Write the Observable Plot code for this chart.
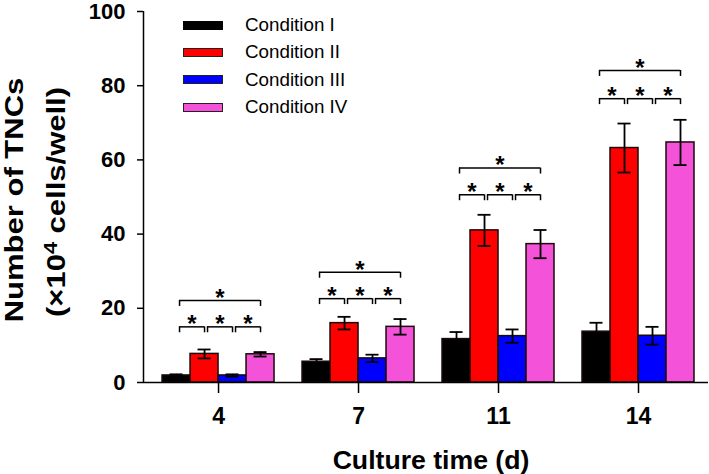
<!DOCTYPE html>
<html>
<head>
<meta charset="utf-8">
<script src="https://cdn.jsdelivr.net/npm/d3@7"></script>
<script src="https://cdn.jsdelivr.net/npm/@observablehq/plot@0.6"></script>
<style>
  body { margin: 0; background: #fff; }
  #wrap { position: relative; width: 709px; height: 474px; font-family: "Liberation Sans", Arial, sans-serif; overflow: hidden; }
  #wrap svg { position: absolute; left: 0; top: 0; }
  .legend-row { position: absolute; left: 183px; height: 20px; display: flex; align-items: center; }
  .legend-row .sw { width: 38px; height: 7px; border: 1px solid #222; }
  .legend-row .lb { margin-left: 22px; font-size: 18.8px; color: #000; white-space: nowrap; }
  .ylab { position: absolute; font-weight: bold; font-size: 25px; line-height: 1; white-space: nowrap; color: #000;
          transform: translate(-50%, -50%) rotate(-90deg) scaleX(1.24); }
  .ylab sup { font-size: 70%; vertical-align: 0.45em; line-height: 0; }
  .xlab { position: absolute; font-weight: bold; font-size: 25px; line-height: 1; white-space: nowrap; color: #000;
          transform: translate(-50%, 0) scaleX(1.065); }
</style>
</head>
<body>
<div id="wrap"></div>
<script>
// ---- data ----
const days = ["4", "7", "11", "14"];
const conditions = ["Condition I", "Condition II", "Condition III", "Condition IV"];
const colors = ["#000000", "#ff0000", "#0000ff", "#f352d9"];

const meanI   = [1.9, 5.6, 11.7, 13.7];
const meanII  = [7.7, 16.0, 41.0, 63.2];
const meanIII = [1.9, 6.5, 12.5, 12.6];
const meanIV  = [7.6, 15.0, 37.3, 64.7];

const errI   = [0.3, 0.7, 1.9, 2.4];
const errII  = [1.2, 1.7, 4.2, 6.6];
const errIII = [0.3, 1.0, 1.8, 2.4];
const errIV  = [0.6, 2.1, 3.8, 6.1];

const bracketLow  = [15.0, 22.6, 50.6, 76.5];
const bracketHigh = [22.1, 29.7, 57.8, 84.1];
const yTicks = [0, 20, 40, 60, 80, 100];

// ---- layout in bar units: each day group = 4 bars + 1 bar-wide gap ----
const stride = conditions.length + 1;
const xStart = -0.68, xEnd = days.length * stride - 0.5;

const means = [meanI, meanII, meanIII, meanIV];
const errs = [errI, errII, errIII, errIV];
const rows = [];
days.forEach((d, g) => conditions.forEach((c, i) =>
  rows.push({day: d, cond: c, pos: g * stride + i, mean: means[i][g], err: errs[i][g]})));

const pairs = [[0, 1], [1, 2], [2, 3]];
const brackets = [];
days.forEach((d, g) => {
  pairs.forEach(([a, b]) => brackets.push({a: g * stride + a, b: g * stride + b, h: bracketLow[g]}));
  brackets.push({a: g * stride, b: g * stride + 3, h: bracketHigh[g]});
});
const groupCenters = days.map((d, g) => g * stride + conditions.length / 2);

const legLen = 1.6;
const ink = "#000";

const chart = Plot.plot({
  width: 709,
  height: 474,
  marginLeft: 143,
  marginRight: 1,
  marginTop: 11,
  marginBottom: 92,
  style: {fontFamily: "'Liberation Sans', Arial, sans-serif", background: "transparent", overflow: "visible", color: "#000"},
  x: {domain: [xStart, xEnd]},
  y: {domain: [0, 100]},
  color: {domain: conditions, range: colors},
  marks: [
    Plot.rectY(rows, {x1: "pos", x2: d => d.pos + 1, y: "mean", fill: "cond", stroke: "#1a0a0a", strokeWidth: 1.5}),
    Plot.ruleX(rows, {x: d => d.pos + 0.5, y1: d => d.mean - d.err, y2: d => d.mean + d.err, stroke: ink, strokeWidth: 1.8}),
    Plot.ruleY(rows, {x1: "pos", x2: d => d.pos + 1, y: d => d.mean + d.err, insetLeft: 7.5, insetRight: 7.5, stroke: ink, strokeWidth: 1.8}),
    Plot.ruleY(rows, {x1: "pos", x2: d => d.pos + 1, y: d => d.mean - d.err, insetLeft: 7.5, insetRight: 7.5, stroke: ink, strokeWidth: 1.8}),
    // significance brackets
    Plot.ruleY(brackets, {x1: d => d.a + 0.5, x2: d => d.b + 0.5, y: "h", insetLeft: 3, stroke: ink, strokeWidth: 1.5}),
    Plot.ruleX(brackets, {x: d => d.a + 0.5, dx: 3, y1: "h", y2: d => d.h - legLen, stroke: ink, strokeWidth: 1.5}),
    Plot.ruleX(brackets, {x: d => d.b + 0.5, y1: "h", y2: d => d.h - legLen, stroke: ink, strokeWidth: 1.5}),
    Plot.text(brackets, {x: d => (d.a + d.b) / 2 + 0.5, y: "h", text: () => "*", dx: 1.5, dy: -2.4,
      lineAnchor: "middle", fontSize: 24, fontWeight: "bold", fill: ink}),
    // axes
    Plot.ruleY([0], {stroke: ink, strokeWidth: 1.5}),
    Plot.ruleX([xStart], {stroke: ink, strokeWidth: 1.5}),
    Plot.axisY({ticks: yTicks, tickSize: 6, tickPadding: 12, fontSize: 22, fontWeight: "bold", label: null, strokeWidth: 1.5, tickFormat: d => String(d)}),
    Plot.axisX({ticks: groupCenters, tickFormat: v => days[groupCenters.indexOf(v)], tickSize: 11, tickPadding: 14,
      fontSize: 23, fontWeight: "bold", label: null, strokeWidth: 1.5})
  ]
});

const wrap = document.getElementById("wrap");
wrap.appendChild(chart);

// legend
const legendTop = [25, 52, 79.5, 107];
conditions.forEach((c, i) => {
  const row = document.createElement("div");
  row.className = "legend-row";
  row.style.top = (legendTop[i] - 10) + "px";
  const sw = document.createElement("div");
  sw.className = "sw";
  sw.style.background = colors[i];
  if (i === 0) sw.style.borderColor = "#000";
  const lb = document.createElement("div");
  lb.className = "lb";
  lb.textContent = c;
  row.appendChild(sw);
  row.appendChild(lb);
  wrap.appendChild(row);
});

// axis titles
const y1 = document.createElement("div");
y1.className = "ylab";
y1.style.left = "13.5px"; y1.style.top = "200px";
y1.textContent = "Number of TNCs";
wrap.appendChild(y1);
const y2 = document.createElement("div");
y2.className = "ylab";
y2.style.left = "55.5px"; y2.style.top = "202px";
y2.innerHTML = "(×10<sup>4</sup> cells/well)";
wrap.appendChild(y2);
const xl = document.createElement("div");
xl.className = "xlab";
xl.style.left = "431px"; xl.style.top = "448px";
xl.textContent = "Culture time (d)";
wrap.appendChild(xl);
</script>
</body>
</html>
